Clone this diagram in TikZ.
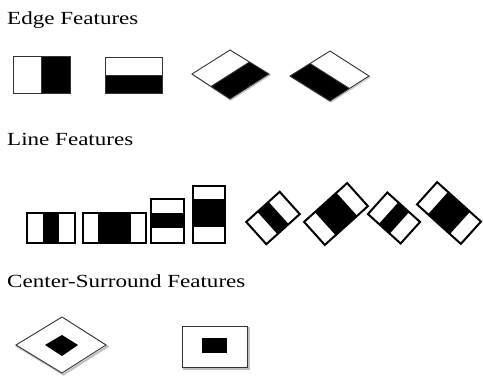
\documentclass[tikz,border=0pt]{standalone}
\usepackage{fontspec}
\setmainfont{Liberation Serif}
\usetikzlibrary{calc}
\begin{document}
\begin{tikzpicture}[x=1pt,y=-1pt,
  title/.style={anchor=base west,inner sep=0pt,font=\fontsize{18.5}{20}\selectfont,xscale=1.245},
  edgeline/.style={draw=black!80,line width=0.9pt},
  bar/.style={draw=black,line width=2pt},
  shadowline/.style={draw=black!25,line width=2pt}]
  \useasboundingbox[fill=white] (0,0) rectangle (483,376);
  \node[title] (edgetitle) at (7,24) {Edge Features};
  \node[title] (linetitle) at (7,145.5) {Line Features};
  \node[title] (centertitle) at (7,287) {Center-Surround Features};
  % edge features
  \fill (41,56) rectangle (70,93);
  \draw[edgeline] (13,56) rectangle (70,93) (41,56) -- (41,93);
  \fill (105,75) rectangle (162,93);
  \draw[edgeline] (105,57) rectangle (162,93) (105,75) -- (162,75);
  \coordinate (l3) at (192,74); \coordinate (t3) at (230,50); \coordinate (r3) at (269,74); \coordinate (b3) at (230,99);
  \draw[shadowline,line width=1pt,shift={(1,1)}] (192,74) -- (230,50) -- (269,74) -- (230,99) -- cycle;
  \fill[white] (l3) -- (t3) -- (r3) -- (b3) -- cycle;
  \fill ($(l3)!0.5!(b3)$) -- (b3) -- (r3) -- ($(t3)!0.5!(r3)$) -- cycle;
  \draw[edgeline] (l3) -- (t3) -- (r3) -- (b3) -- cycle ($(l3)!0.5!(b3)$) -- ($(t3)!0.5!(r3)$);
  \coordinate (l4) at (290,76); \coordinate (t4) at (330,51); \coordinate (r4) at (369,76); \coordinate (b4) at (330,101);
  \draw[shadowline,line width=1pt,shift={(1,1)}] (290,76) -- (330,51) -- (369,76) -- (330,101) -- cycle;
  \fill[white] (l4) -- (t4) -- (r4) -- (b4) -- cycle;
  \fill (l4) -- ($(l4)!0.5!(t4)$) -- ($(r4)!0.5!(b4)$) -- (b4) -- cycle;
  \draw[edgeline] (l4) -- (t4) -- (r4) -- (b4) -- cycle ($(l4)!0.5!(t4)$) -- ($(r4)!0.5!(b4)$);
  % line features
  \fill (43,213) rectangle (59,243);
  \draw[bar] (27,213) rectangle (75,243);
  \fill (98,213) rectangle (131,243);
  \draw[bar] (83,213) rectangle (146,243);
  \fill (151,213) rectangle (184,228);
  \draw[bar] (151,199) rectangle (184,243);
  \fill (193,199) rectangle (225,227);
  \draw[bar] (193,186) rectangle (225,243);
  \begin{scope}[shift={(273,218)},rotate=42]
    \fill (-7.5,-15) rectangle (7.5,15);
    \draw[bar] (-22.5,-15) rectangle (22.5,15);
  \end{scope}
  \begin{scope}[shift={(336,214)},rotate=42]
    \fill (-14.5,-15.5) rectangle (14.5,15.5);
    \draw[bar] (-29,-15.5) rectangle (29,15.5);
  \end{scope}
  \begin{scope}[shift={(394,218)},rotate=-42]
    \fill (-7.3,-14.5) rectangle (7.3,14.5);
    \draw[bar] (-22,-14.5) rectangle (22,14.5);
  \end{scope}
  \begin{scope}[shift={(449,213)},rotate=-42]
    \fill (-14.75,-15) rectangle (14.75,15);
    \draw[bar] (-29.5,-15) rectangle (29.5,15);
  \end{scope}
  % center-surround features
  \draw[shadowline,shift={(1.5,1.5)}] (16,345) -- (62,317) -- (106,345) -- (62,373) -- cycle;
  \draw[edgeline,fill=white] (16,345) -- (62,317) -- (106,345) -- (62,373) -- cycle;
  \fill (45,345) -- (62,335) -- (78,345) -- (62,356) -- cycle;
  \draw[shadowline,shift={(1.5,1.5)}] (182,326) rectangle (247,367);
  \draw[edgeline,fill=white] (182,326) rectangle (247,367);
  \fill (202,338) rectangle (227,353);
\end{tikzpicture}
\end{document}
